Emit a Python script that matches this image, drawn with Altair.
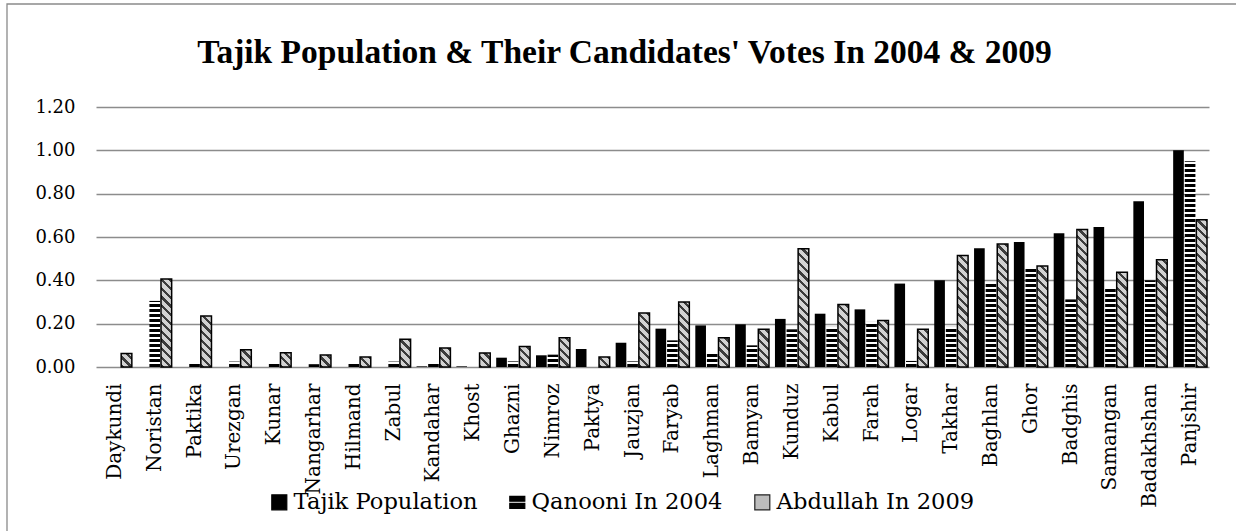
import json
import altair as alt
import pandas as pd

# ---------------- data ----------------
provinces = ["Daykundi", "Noristan", "Paktika", "Urezgan", "Kunar", "Nangarhar",
             "Hilmand", "Zabul", "Kandahar", "Khost", "Ghazni", "Nimroz", "Paktya",
             "Jauzjan", "Faryab", "Laghman", "Bamyan", "Kunduz", "Kabul", "Farah",
             "Logar", "Takhar", "Baghlan", "Ghor", "Badghis", "Samangan",
             "Badakhshan", "Panjshir"]
tajik_population = [0.0, 0.0, 0.0, 0.0, 0.0, 0.0, 0.0, 0.0, 0.003, 0.003, 0.043, 0.054,
                    0.083, 0.112, 0.177, 0.192, 0.197, 0.222, 0.246, 0.266, 0.385, 0.40,
                    0.548, 0.577, 0.617, 0.646, 0.765, 1.00]
qanooni_2004 = [0.0, 0.305, 0.023, 0.025, 0.015, 0.013, 0.023, 0.025, 0.023, 0.0, 0.026,
                0.057, 0.0, 0.026, 0.123, 0.062, 0.10, 0.174, 0.185, 0.208, 0.028, 0.185,
                0.39, 0.454, 0.312, 0.366, 0.40, 0.95]
abdullah_2009 = [0.062, 0.406, 0.235, 0.08, 0.066, 0.055, 0.046, 0.128, 0.088, 0.065,
                 0.095, 0.135, 0.046, 0.249, 0.30, 0.135, 0.174, 0.546, 0.289, 0.215,
                 0.174, 0.515, 0.568, 0.466, 0.635, 0.437, 0.495, 0.68]
series_names = ["Tajik Population", "Qanooni In 2004", "Abdullah In 2009"]
y_ticks = [0.0, 0.2, 0.4, 0.6, 0.8, 1.0, 1.2]
title_text = "Tajik Population & Their Candidates' Votes In 2004 & 2009"

rows = []
for name, vals in zip(series_names, [tajik_population, qanooni_2004, abdullah_2009]):
    for p, v in zip(provinces, vals):
        rows.append({"Province": p, "Series": name, "Value": v})
df = pd.DataFrame(rows)

# ---------------- layout / style ----------------
W, H = 1113, 260
PAD = {"left": 96, "top": 107, "right": 27, "bottom": 164}
YMAX = 1.2
PXU = H / YMAX
PI, PO = 0.15, 0.05          # province band paddings
OPI = 0.08                   # series offset padding
step = W / (len(provinces) - PI + 2 * PO)
band = step * (1 - PI)
BW = band / (3 - OPI) * (1 - OPI)   # width of one bar in px

SERIF = "DejaVu Serif"


def stripe_stops(n, frac, c_on, c_off):
    stops = []
    for i in range(n):
        a = round(i / n, 5)
        b = round((i + frac) / n, 5)
        c = round((i + 1) / n, 5)
        stops += [{"offset": a, "color": c_on}, {"offset": b, "color": c_on},
                  {"offset": b, "color": c_off}, {"offset": c, "color": c_off}]
    return json.dumps(stops)


hexpr = f"max(datum.Value * {PXU:.5f}, 0.5)"
# horizontal black/white stripes, constant pixel period (Qanooni)
SQ, NQ = 250, 50
q_grad = ("{gradient: 'linear', x1: 0, y1: 1, x2: 0, y2: 1 - " + str(SQ) + " / " + hexpr +
          ", stops: " + stripe_stops(NQ, 0.58, "#000000", "#ffffff") + "}")
# diagonal hatch, constant pixel period (Abdullah)
SA, NA = 250, 29
den = f"({BW:.4f} * {BW:.4f} + {hexpr} * {hexpr})"
a_grad = ("{gradient: 'linear', x1: 0, y1: 1, x2: " + f"{SA} * {BW:.4f} / {den}" +
          ", y2: 1 - " + f"{SA} * {hexpr} / {den}" +
          ", stops: " + stripe_stops(NA, 0.38, "#3c3c3c", "#d2d2d2") + "}")

x_enc = alt.X("Province:N", sort=provinces,
              scale=alt.Scale(paddingInner=PI, paddingOuter=PO),
              axis=alt.Axis(title=None, labelAngle=270, labelAlign="right",
                            labelBaseline="middle", labelFont=SERIF, labelFontSize=20,
                            labelColor="black", labelPadding=16, ticks=False,
                            domain=False, grid=False))
xo_enc = alt.XOffset("Series:N", sort=series_names,
                     scale=alt.Scale(domain=series_names, paddingInner=OPI, paddingOuter=0))
y_enc = alt.Y("Value:Q", stack=None,
              scale=alt.Scale(domain=[0, YMAX], nice=False, zero=True),
              axis=alt.Axis(title=None, values=y_ticks, format=".2f", labelFont=SERIF,
                            labelFontSize=18, labelColor="black", labelPadding=21,
                            ticks=False, domain=False, grid=True, gridColor="#8c8c8c",
                            gridWidth=1.3))

base = alt.Chart(df).encode(x=x_enc, xOffset=xo_enc, y=y_enc)

tajik_bars = base.transform_filter(
    alt.datum.Series == series_names[0]).mark_bar(fill="black")
qanooni_bars = base.transform_filter(
    alt.datum.Series == series_names[1]).transform_calculate(
    g=q_grad).mark_bar().encode(fill=alt.Fill("g:N", scale=None))
abdullah_bars = base.transform_filter(
    alt.datum.Series == series_names[2]).transform_calculate(
    g=a_grad).mark_bar(stroke="black", strokeWidth=1.5).encode(
    fill=alt.Fill("g:N", scale=None))

leg = alt.Legend(title=None, orient="none", legendX=172, legendY=384,
                 direction="horizontal", symbolSize=225, labelFont=SERIF,
                 labelFontSize=22.6, labelColor="black", labelLimit=400,
                 columnPadding=28, labelOffset=3, symbolStrokeWidth=1.2, padding=0)
eq_path = "M-1,-0.8H1V-0.15H-1Z M-1,0.15H1V0.8H-1Z"
legend_layer = alt.Chart(df).transform_filter("false").mark_point(filled=True).encode(
    fill=alt.Fill("Series:N", sort=series_names,
                  scale=alt.Scale(domain=series_names, range=["black", "black", "#bdbdbd"]),
                  legend=leg),
    shape=alt.Shape("Series:N", sort=series_names,
                    scale=alt.Scale(domain=series_names, range=["square", eq_path, "square"]),
                    legend=leg),
    stroke=alt.Stroke("Series:N", sort=series_names,
                      scale=alt.Scale(domain=series_names, range=["black", "black", "#222222"]),
                      legend=leg),
)

frame = alt.Chart(alt.Data(values=[{}])).mark_rect(
    fill="transparent", stroke="#8a8a8a", strokeWidth=1.3).encode(
    x=alt.value(-89), x2=alt.value(1160), y=alt.value(-103), y2=alt.value(450))

chart = alt.layer(frame, tajik_bars, qanooni_bars, abdullah_bars, legend_layer).properties(
    width=W, height=H,
    autosize=alt.AutoSizeParams(type="none"),
    padding=PAD,
    background="white",
    title=alt.TitleParams(text=title_text, font="Liberation Serif", fontSize=33.5,
                          fontWeight="bold", color="black", anchor="middle",
                          frame="group", dx=-28, baseline="alphabetic", offset=-92.7),
).configure(font=SERIF).configure_view(strokeWidth=0).configure_legend(
    labelFont=SERIF, labelFontSize=22.6, labelColor="black", labelLimit=400
)

chart.save("out.html", embed_options={"renderer": "svg", "actions": False})
